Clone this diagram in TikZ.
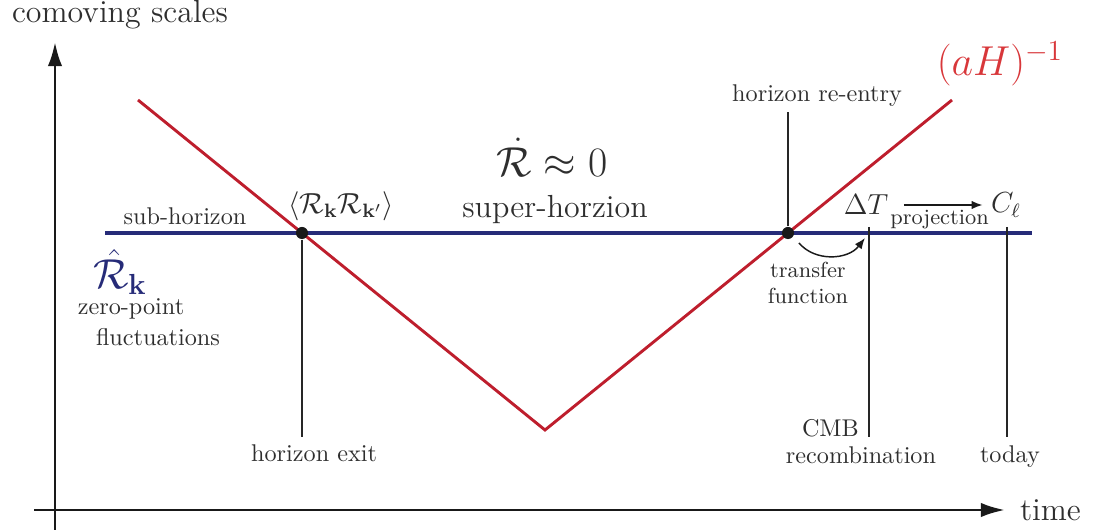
\documentclass[tikz,border=0pt]{standalone}
\usepackage{amsmath}
\usepackage{amssymb}
\usetikzlibrary{arrows.meta, positioning, calc}
\definecolor{modeline}{HTML}{262B78}
\definecolor{hubline}{HTML}{BE1E2D}
\definecolor{hubtext}{HTML}{D8373A}
\definecolor{lbltext}{HTML}{2E2E2E}
\tikzset{
  axisln/.style  = {draw=black!90, line width=1.2pt,
                     -{Latex[length=10pt, width=6pt]}},
  hubln/.style   = {draw=hubline, line width=1.2pt, line join=miter},
  modeln/.style  = {draw=modeline, line width=2pt},
  markln/.style  = {draw=black!85, line width=0.7pt},
  xing/.style    = {circle, fill=black!90, inner sep=0pt, minimum size=5pt},
  evlbl/.style   = {font=\normalsize, text=lbltext, inner sep=1pt},
  bigflbl/.style = {font=\fontsize{13.2}{16}\selectfont, text=lbltext,
                     inner sep=1pt},
  smlbl/.style   = {font=\small, text=lbltext, inner sep=1pt, align=center},
  thinarr/.style = {draw=black!90, line width=0.6pt,
                     -{Latex[length=4.5pt, width=3.5pt]}},
}

\begin{document}
\begin{tikzpicture}[x=0.413pt, y=-0.413pt]
    \useasboundingbox (0,0) rectangle (1099,531);
    % axes
    \coordinate (ybot) at (55,530);
    \coordinate (ytop) at (55,42);
    \coordinate (xleft) at (34,510);
    \coordinate (xright) at (1005,510);
    \draw[axisln] (ybot) -- (ytop);
    \draw[axisln] (xleft) -- (xright);
    \node[bigflbl] (ylbl) at (120,15) {comoving scales};
    \node[bigflbl, right=5pt of xright] (xlbl) {time};

    % the mode and the comoving Hubble radius
    \coordinate (kstart) at (105,233);
    \coordinate (kend) at (1032,233);
    \draw[modeln] (kstart) -- (kend);
    \coordinate (hstart) at (138,100);
    \coordinate (hmin) at (545,430);
    \coordinate (hend) at (952,100);
    \draw[hubln] (hstart) -- (hmin) -- (hend);
    \node[font=\fontsize{16.5}{19}\selectfont, text=hubtext] (hlbl) at (1000,64)
         {$(aH)^{-1}$};

    % crossings
    \node[xing] (exit) at (302,233) {};
    \node[xing] (reentry) at (788,233) {};
    \coordinate (exitend) at (302,437);
    \coordinate (reentryend) at (788,112);
    \draw[markln] (exit) -- (exitend);
    \draw[markln] (reentry) -- (reentryend);
    \node[evlbl, below=2pt of exitend, xshift=5pt] (exitlbl) {horizon exit};
    \node[evlbl, above=1pt of reentryend, xshift=12pt] (reentrylbl) {horizon re-entry};

    % labels along the mode
    \node[evlbl] (sublbl) at (185,216) {sub-horizon};
    \node[font=\LARGE, text=modeline] (rk) at (120,272) {$\hat{\mathcal{R}}_{\mathbf{k}}$};
    \node[evlbl] (zp) at (131,309) {zero-point};
    \node[evlbl] (fl) at (158,337) {fluctuations};
    \node[font=\large, text=lbltext] (corr) at (341,206)
         {$\langle \mathcal{R}_{\mathbf{k}} \mathcal{R}_{\mathbf{k}'} \rangle$};
    \node[font=\fontsize{16}{19}\selectfont, text=lbltext] (cons) at (552,157)
         {$\dot{\mathcal{R}} \approx 0$};
    \node[bigflbl] (suplbl) at (555,210) {super-horzion};

    % late times
    \coordinate (cmbtop) at (869,227);
    \coordinate (cmbend) at (869,437);
    \coordinate (todtop) at (1007,227);
    \coordinate (todend) at (1007,437);
    \draw[markln] (cmbtop) -- (cmbend);
    \draw[markln] (todtop) -- (todend);
    \node[evlbl, anchor=base east] (cmblbl) at ([xshift=-3pt]cmbend) {CMB};
    \node[evlbl] (reclbl) at (861,455) {recombination};
    \node[evlbl] (todlbl) at (1010,457) {today};
    \node[font=\large, text=lbltext] (dT) at (866,205) {$\Delta T$};
    \node[font=\large, text=lbltext] (Cl) at (1006,205) {$C_\ell$};
    \draw[thinarr, shorten <=3pt] (dT.east) -- node[smlbl, below=1pt] (projlbl)
         {projection} (Cl.west);
    \coordinate (tfstart) at (799,243);
    \coordinate (tfend) at (865,238);
    \draw[thinarr] (tfstart) .. controls (815,262) and (848,260) .. (tfend);
    \node[smlbl] (tflbl) at (808,283) {transfer\\function};
\end{tikzpicture}
\end{document}
